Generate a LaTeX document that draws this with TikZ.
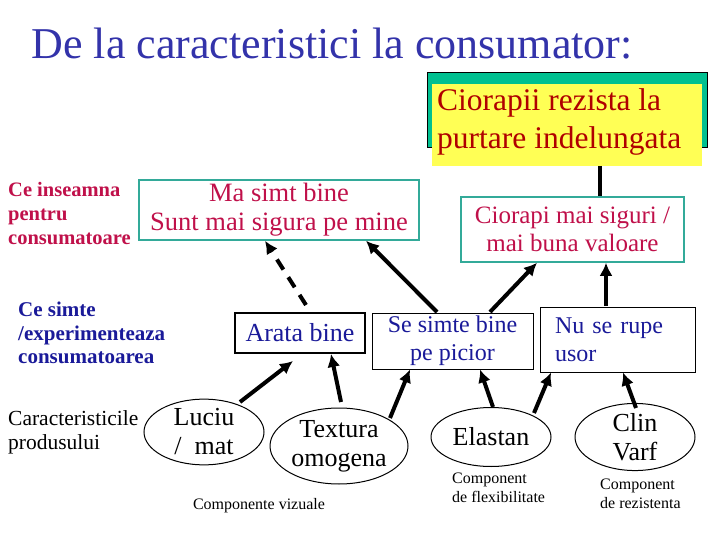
\documentclass[tikz,border=0pt]{standalone}
\usepackage{fontspec}
\setmainfont{Liberation Serif}
\usetikzlibrary{shapes.geometric,arrows.meta}
\definecolor{ttl}{HTML}{3333AA}
\definecolor{teal1}{HTML}{33AA99}
\definecolor{crim}{HTML}{C0104A}
\definecolor{dred}{HTML}{B00000}
\definecolor{nblue}{HTML}{1A1A99}
\definecolor{gshadow}{HTML}{00C090}
\definecolor{yel}{HTML}{FFFF55}
\begin{document}
\begin{tikzpicture}[x=1pt,y=-1pt,
  arr/.style={line width=4pt,-{Latex[length=13pt,width=13pt]}},
  tbox/.style={draw=teal1,line width=1.5pt,align=center,text=crim,inner sep=0pt,font=\fontsize{25}{28}\selectfont},
  bbox/.style={draw=black,line width=1pt,align=center,text=nblue,inner sep=0pt,font=\fontsize{24}{28}\selectfont},
  ell/.style={draw,ellipse,line width=1pt,inner sep=0pt,align=center,font=\fontsize{26}{29}\selectfont},
  lbl/.style={anchor=north west,align=left,inner sep=0pt}]
\useasboundingbox (0,0) rectangle (720,540);
\fill[white] (0,0) rectangle (720,540);
\node[anchor=west,text=ttl,font=\fontsize{44}{48}\selectfont] (title) at (28,44) {De la caracteristici la consumator:};
% top box
\draw[fill=gshadow,line width=1pt] (427,73) rectangle (707,148);
\fill[yel] (432,84) rectangle (702,166);
\node[align=left,text=dred,font=\fontsize{31.5}{38}\selectfont,anchor=north west,inner sep=0pt] (top) at (437,88) {Ciorapii rezista la\\purtare indelungata};
\coordinate (topb) at (600,166);
\node[tbox,minimum width=223pt,minimum height=65pt] (cio) at (572.5,229.5) {Ciorapi mai siguri /\\ mai buna valoare};
\node[tbox,minimum width=280pt,minimum height=60pt,font=\fontsize{26.5}{29}\selectfont] (ma) at (279,210) {Ma simt bine\\Sunt mai sigura pe mine};
\node[bbox,line width=2pt,minimum width=130pt,minimum height=40pt,font=\fontsize{26}{28}\selectfont] (ar) at (300,333) {Arata bine};
\node[bbox,minimum width=161pt,minimum height=56pt] (se) at (452.5,341) {Se simte bine\\pe picior};
\node[bbox,minimum width=155pt,minimum height=65pt,text width=125pt,align=left] (nu) at (617.5,339.5) {Nu se rupe\\usor};
\node[ell,minimum width=120pt,minimum height=58pt] (lu) at (204,432) {Luciu\\ / \ mat};
\node[ell,minimum width=138pt,minimum height=76pt] (tx) at (339,446) {Textura\\omogena};
\node[ell,minimum width=120pt,minimum height=59pt] (el) at (491,437) {Elastan};
\node[ell,minimum width=120pt,minimum height=60pt] (cl) at (635,437) {Clin\\Varf};
% labels
\node[lbl,text=crim,font=\bfseries\fontsize{20.5}{24}\selectfont] (l1) at (8,182) {Ce inseamna\\pentru\\consumatoare};
\node[lbl,text=nblue,font=\bfseries\fontsize{21}{23.5}\selectfont] (l2) at (18,302) {Ce simte\\/experimenteaza\\consumatoarea};
\node[lbl,font=\fontsize{21.5}{24}\selectfont] (l3) at (8,410) {Caracteristicile\\produsului};
\node[font=\fontsize{16}{18}\selectfont] (cv) at (259,506) {Componente vizuale};
\node[lbl,font=\fontsize{16}{19}\selectfont] (cf) at (452,473) {Component\\de flexibilitate};
\node[lbl,font=\fontsize{16}{19}\selectfont] (cr) at (600,479) {Component\\de rezistenta};
% connectors
\draw[line width=4pt] (topb) -- (cio.north -| topb);
\draw[arr] (240,402) -- (293,361);
\draw[arr] (341,402) -- (ar.south -| 331,0);
\draw[arr] (390,418) -- (se.south -| 410,0);
\draw[arr] (493,407) -- (se.south -| 480,0);
\draw[arr] (534,413) -- (nu.south -| 551,0);
\draw[arr] (636,408) -- (nu.south -| 623,0);
\draw[arr] (437,312) -- (ma.south -| 366,0);
\draw[arr] (490,312) -- (cio.south -| 537,0);
\draw[arr] (606,306) -- (cio.south -| 606,0);
\draw[arr,dash pattern=on 12pt off 9pt] (306,305) -- (ma.south -| 265,0);
\end{tikzpicture}
\end{document}
